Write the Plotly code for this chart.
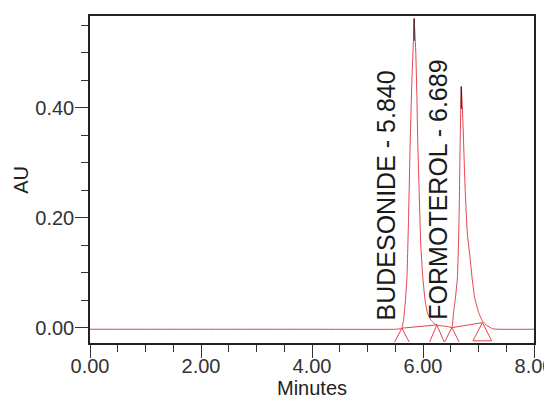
import plotly.graph_objects as go

# Chromatogram trace (minutes, AU)
time_min = [0.00, 2.00, 4.00, 5.50, 5.60, 5.62, 5.65, 5.68, 5.71, 5.74, 5.77, 5.80, 5.83, 5.84,
            5.85, 5.87, 5.89, 5.905, 5.93, 5.96, 6.00, 6.04, 6.08, 6.14, 6.20, 6.25, 6.35, 6.45,
            6.52, 6.55, 6.58, 6.62, 6.65, 6.67, 6.685, 6.689, 6.695, 6.71, 6.73, 6.76, 6.80,
            6.85, 6.88, 6.93, 7.00, 7.07, 7.15, 7.25, 7.35, 8.00]
signal_au = [-0.003, -0.003, -0.003, -0.003, -0.002, -0.001, 0.015, 0.045, 0.090, 0.200, 0.340, 0.450, 0.530, 0.562,
             0.545, 0.500, 0.420, 0.340, 0.250, 0.150, 0.087, 0.048, 0.027, 0.014, 0.008, 0.005, 0.003, 0.002,
             0.000, 0.027, 0.050, 0.090, 0.200, 0.340, 0.420, 0.438, 0.430, 0.400, 0.340, 0.250, 0.170,
             0.125, 0.095, 0.055, 0.028, 0.012, 0.004, -0.002, -0.003, -0.003]

# Peaks
peak_names = ["BUDESONIDE - 5.840", "FORMOTEROL - 6.689"]
peak_rt = [5.840, 6.689]
peak_height = [0.562, 0.438]
label_x = [5.34, 6.28]

# Integration events (start/end of peaks) and baseline levels
event_t = [5.62, 6.25, 6.52, 7.07]
event_au = [-0.001, 0.005, 0.000, 0.009]

red = "#e2434d"
fig = go.Figure()

fig.add_trace(go.Scatter(x=time_min, y=signal_au, mode="lines",
                         line=dict(color=red, width=1, shape="spline", smoothing=0.4),
                         hoverinfo="skip"))

# baselines under the peaks
for i in (0, 2):
    fig.add_trace(go.Scatter(x=[event_t[i], event_t[i + 1]], y=[event_au[i], event_au[i + 1]],
                             mode="lines", line=dict(color=red, width=1)))

# event triangles
bottom = -0.026
for i, (t, a) in enumerate(zip(event_t, event_au)):
    if i == 3:
        hw = 0.17
        xs = [t - hw, t, t + hw, t - hw]
        ys = [bottom + 0.002, a, bottom + 0.002, bottom + 0.002]
    else:
        hw = 0.13
        xs = [t - hw, t, t + hw]
        ys = [bottom, a, bottom]
    fig.add_trace(go.Scatter(x=xs, y=ys, mode="lines", line=dict(color=red, width=1)))

# apex markers
for rt, h in zip(peak_rt, peak_height):
    fig.add_trace(go.Scatter(x=[rt, rt], y=[h - 0.04, h + 0.001], mode="lines",
                             line=dict(color="#111111", width=1)))

for name, lx in zip(peak_names, label_x):
    fig.add_annotation(x=lx, y=0.010, text=name, textangle=-90, showarrow=False,
                       xanchor="center", yanchor="bottom",
                       font=dict(family="Liberation Sans, Arial", size=25, color="#1a1a1a"))

fig.add_annotation(xref="paper", yref="paper", x=-0.154, y=0.498, text="AU", textangle=-90,
                   showarrow=False, xanchor="center", yanchor="middle",
                   font=dict(family="Liberation Sans, Arial", size=20, color="#222222"))
fig.add_annotation(xref="paper", yref="paper", x=0.501, y=-0.1376, text="Minutes",
                   showarrow=False, xanchor="center", yanchor="middle",
                   font=dict(family="Liberation Sans, Arial", size=20, color="#222222"))

axis_common = dict(showgrid=False, zeroline=False, showline=True, linecolor="#222222",
                   linewidth=1.5, mirror=True, ticks="outside", ticklen=13, tickwidth=1.3,
                   tickcolor="#333333", tickformat=".2f",
                   tickfont=dict(family="Liberation Sans, Arial", size=20, color="#333333"))

fig.update_xaxes(range=[0, 8], tick0=0, dtick=2, ticklabelstandoff=-9,
                 minor=dict(dtick=0.5, ticklen=7, tickwidth=1.3, tickcolor="#333333", ticks="outside"),
                 **axis_common)
fig.update_yaxes(range=[-0.028, 0.567], tick0=0, dtick=0.2, ticklabelstandoff=-3,
                 minor=dict(dtick=0.05, ticklen=7, tickwidth=1.3, tickcolor="#333333", ticks="outside"),
                 **axis_common)

# the page body has an 8px margin, so the margins compensate for it
fig.update_layout(width=552, height=398, margin=dict(l=82, r=26, t=8, b=63, autoexpand=False),
                  plot_bgcolor="white", paper_bgcolor="white", showlegend=False)

fig.write_html("out.html")
